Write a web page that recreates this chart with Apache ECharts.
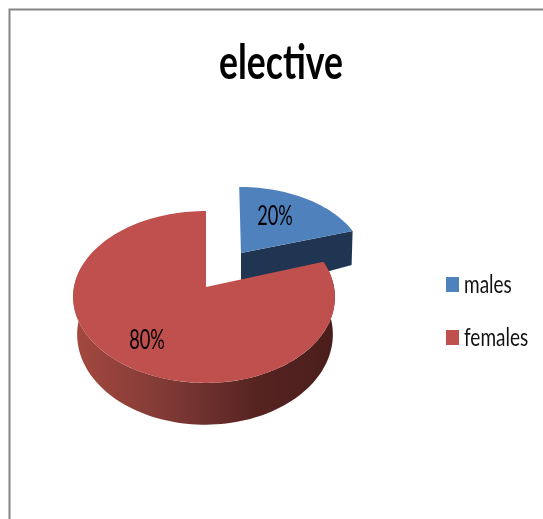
<!DOCTYPE html>
<html><head><meta charset="utf-8">
<style>html,body{margin:0;padding:0;background:#fff}#c{width:543px;height:519px}</style>
<script src="https://cdn.jsdelivr.net/npm/echarts@6/dist/echarts.min.js"></script>
</head><body><div id="c"></div>
<script>
const titleText = 'elective';
const categories = ['males', 'females'];
const values = [20, 80];
const topColors = ['#4f81bd', '#c0504d'];
const FONT = 'Lato,"Liberation Sans",sans-serif';
const total = values.reduce((a, b) => a + b, 0);

// perspective disc: unit circle projected on to the page
const topPlane = {x: 206, y: 287, rx: 130, ry: 84.8, k: 0.116, shift: 2};
const basePlane = {x: 205, y: 324, rx: 127, ry: 89, k: 0.116, shift: 0};
const explode = [
  {dx: 35, dy: -34, sx: 0.94, sy: 0.87, depth: 34, lean: 2, shift: 0},
  {dx: 0, dy: 0, sx: 1, sy: 1, depth: 0, lean: 0, shift: 1}
];
const labelPos = [[275, 217], [147, 341]];
const legendY = [285, 338];

function project(p, deg, e) {
  const t = deg * Math.PI / 180, u = Math.sin(t), v = -Math.cos(t), w = 1 - p.k * v;
  return [p.x + e.dx + e.sx * p.rx * u / w + e.lean * v / w - e.shift * p.shift * Math.abs(u),
          p.y + e.dy + e.sy * p.ry * v / w];
}
function arc(p, a, b, e) {
  const pts = [], n = Math.max(2, Math.ceil(Math.abs(b - a) / 2));
  for (let i = 0; i <= n; i++) pts.push(project(p, a + (b - a) * i / n, e));
  return pts;
}
function sliceAngles(i) {
  const before = values.slice(0, i).reduce((a, b) => a + b, 0);
  return [before / total * 360, (before + values[i]) / total * 360];
}

function renderSlice(i) {
  return function (params, api) {
    const [a, b] = sliceAngles(i), e = explode[i];
    const color = api.visual('color');
    const children = [];
    const apex = [topPlane.x + e.dx, topPlane.y + e.dy];
    if (i === 0) {
      // cut face of the pulled-out slice
      const rim = project(topPlane, b, e);
      const pts = [apex, rim, [rim[0] - 1, rim[1] + e.depth], [apex[0], apex[1] + e.depth + 8]];
      children.push({type: 'polygon', shape: {points: pts}, style: {fill: '#1f3552'}});
    } else {
      // front wall
      const from = Math.max(a, 72), to = Math.min(b, 285);
      const pts = arc(topPlane, from, to, e).concat(arc(basePlane, to, from, e));
      children.push({type: 'polygon', shape: {points: pts}, style: {
        fill: {type: 'linear', x: 0, y: 0, x2: 1, y2: 0, colorStops: [
          {offset: 0, color: '#a4493f'},
          {offset: 0.35, color: '#813a36'},
          {offset: 0.7, color: '#562321'},
          {offset: 1, color: '#4a1e1c'}
        ]}
      }});
    }
    const face = [apex].concat(arc(topPlane, a, b, e));
    children.push({type: 'polygon', shape: {points: face}, style: {fill: color}});
    children.push({type: 'text', x: labelPos[i][0], y: labelPos[i][1], scaleX: 0.7, style: {
      text: Math.round(api.value(0) / total * 100) + '%',
      fill: '#000', font: '26px ' + FONT, align: 'center', verticalAlign: 'middle'
    }});
    return {type: 'group', children};
  };
}

const legendGraphics = categories.flatMap((name, i) => [
  {type: 'rect', silent: true, shape: {x: 446, y: legendY[i] - 8, width: 13, height: 15},
   style: {fill: topColors[i]}},
  {type: 'text', silent: true, x: 464, y: legendY[i], scaleX: 0.76,
   style: {text: name, fill: '#111', font: '25px ' + FONT, align: 'left', verticalAlign: 'middle'}}
]);

const chart = echarts.init(document.getElementById('c'), null, {renderer: 'canvas'});
chart.setOption({
  animation: false,
  backgroundColor: '#fff',
  graphic: [
    {type: 'polyline', silent: true, shape: {points: [[9.5, 519], [9.5, 9.5], [543, 9.5]]},
     style: {stroke: '#868686', lineWidth: 2, fill: null}},
    {type: 'text', silent: true, x: 281, y: 64, scaleX: 0.74,
     style: {text: titleText, fill: '#000', font: 'bold 48px ' + FONT, align: 'center', verticalAlign: 'middle'}}
  ].concat(legendGraphics),
  series: categories.map((name, i) => ({
    type: 'custom', name, coordinateSystem: 'none', silent: true,
    itemStyle: {color: topColors[i]},
    renderItem: renderSlice(i),
    data: [[values[i]]]
  }))
});
</script></body></html>
